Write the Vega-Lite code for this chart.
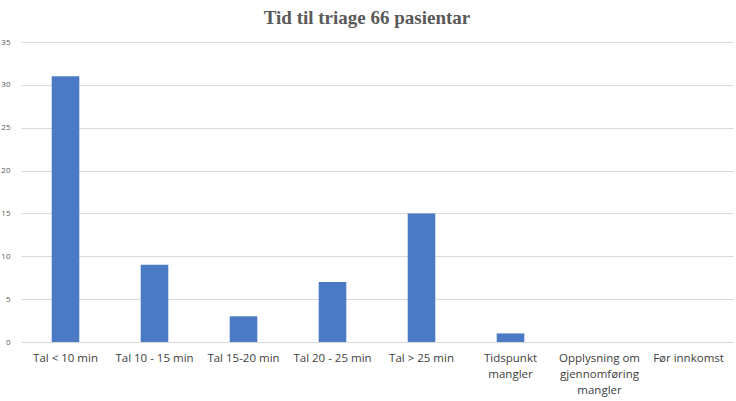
{
  "$schema": "https://vega.github.io/schema/vega-lite/v6.json",
  "width": 712,
  "height": 300,
  "autosize": {"type": "none"},
  "padding": {"left": 21, "top": 42, "right": 3, "bottom": 59},
  "background": "white",
  "title": {
    "text": "Tid til triage 66 pasientar",
    "font": "Liberation Serif",
    "fontSize": 19,
    "fontWeight": "bold",
    "color": "#595959",
    "anchor": "middle",
    "offset": 10,
    "dx": -10
  },
  "data": {
    "values": [
      {"kategori": "Tal < 10 min", "antal": 31},
      {"kategori": "Tal 10 - 15 min", "antal": 9},
      {"kategori": "Tal 15-20 min", "antal": 3},
      {"kategori": "Tal 20 - 25 min", "antal": 7},
      {"kategori": "Tal > 25 min", "antal": 15},
      {"kategori": "Tidspunkt mangler", "antal": 1},
      {"kategori": "Opplysning om gjennomføring mangler", "antal": 0},
      {"kategori": "Før innkomst", "antal": 0}
    ]
  },
  "mark": {"type": "bar", "color": "#4A7AC4"},
  "encoding": {
    "x": {
      "field": "kategori",
      "type": "nominal",
      "sort": null,
      "scale": {"paddingInner": 0.69, "paddingOuter": 0.345},
      "axis": {
        "title": null,
        "labelAngle": 0,
        "labelFont": "Open Sans",
        "labelFontSize": 11.5,
        "labelColor": "#404040",
        "labelPadding": 10,
        "labelLineHeight": 16,
        "labelLimit": 0,
        "ticks": false,
        "domainColor": "#d9d9d9",
        "labelExpr": "datum.value == 'Tidspunkt mangler' ? ['Tidspunkt', 'mangler'] : datum.value == 'Opplysning om gjennomføring mangler' ? ['Opplysning om', 'gjennomføring', 'mangler'] : datum.value"
      }
    },
    "y": {
      "field": "antal",
      "type": "quantitative",
      "scale": {"domain": [0, 35]},
      "axis": {
        "title": null,
        "values": [0, 5, 10, 15, 20, 25, 30, 35],
        "domain": false,
        "ticks": false,
        "gridColor": "#d9d9d9",
        "labelFont": "Open Sans",
        "labelFontSize": 8,
        "labelColor": "#595959",
        "labelPadding": 11
      }
    }
  },
  "config": {"view": {"stroke": null}}
}
